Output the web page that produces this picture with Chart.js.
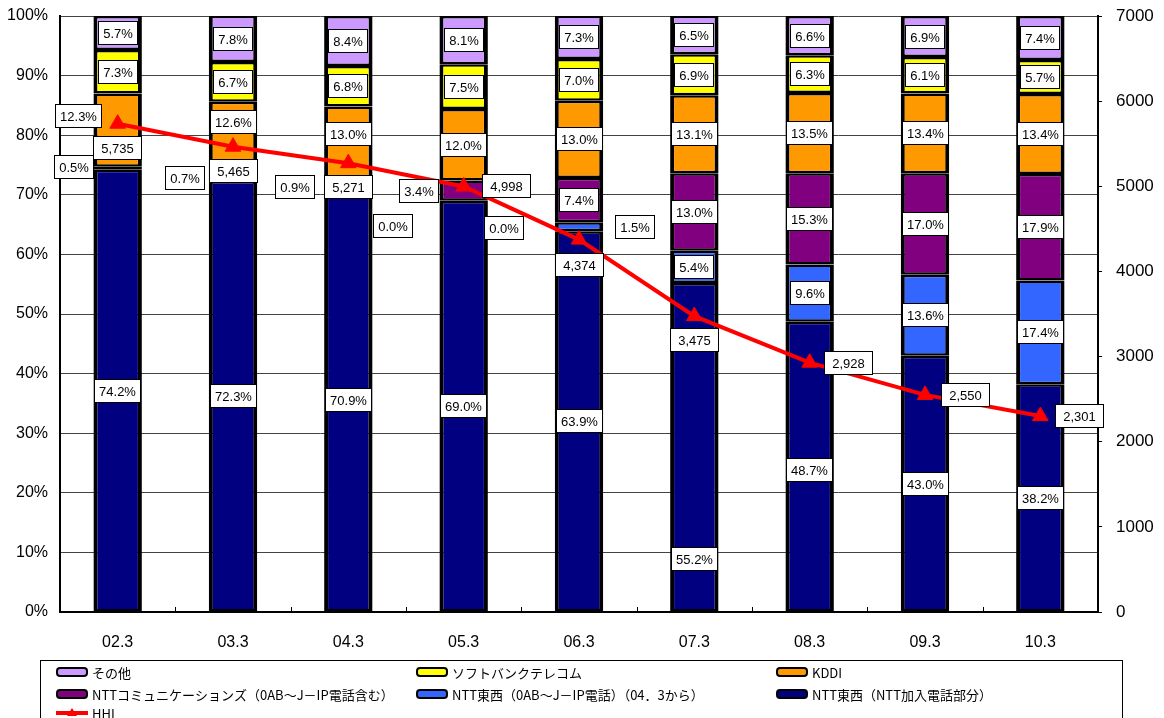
<!DOCTYPE html>
<html lang="ja">
<head>
<meta charset="utf-8">
<title>固定電話市場シェアとHHIの推移</title>
<script src="https://cdn.jsdelivr.net/npm/chart.js@4.4.1/dist/chart.umd.min.js"></script>
<style>
  html, body { margin: 0; padding: 0; background: #fff; }
  canvas { display: block; }
</style>
</head>
<body>
<canvas id="chart" width="1164" height="718"></canvas>
<script>
// ---- data (share in %, HHI index) ----
const categories = ['02.3', '03.3', '04.3', '05.3', '06.3', '07.3', '08.3', '09.3', '10.3'];
const nttLocal   = [74.2, 72.3, 70.9, 69.0, 63.9, 55.2, 48.7, 43.0, 38.2];
const nttIp      = [null, null, 0.0, 0.0, 1.5, 5.4, 9.6, 13.6, 17.4];
const nttCom     = [0.5, 0.7, 0.9, 3.4, 7.4, 13.0, 15.3, 17.0, 17.9];
const kddi       = [12.3, 12.6, 13.0, 12.0, 13.0, 13.1, 13.5, 13.4, 13.4];
const softbank   = [7.3, 6.7, 6.8, 7.5, 7.0, 6.9, 6.3, 6.1, 5.7];
const others     = [5.7, 7.8, 8.4, 8.1, 7.3, 6.5, 6.6, 6.9, 7.4];
const hhi        = [5735, 5465, 5271, 4998, 4374, 3475, 2928, 2550, 2301];

const shareTicks = [0, 10, 20, 30, 40, 50, 60, 70, 80, 90, 100];
const hhiTicks   = [0, 1000, 2000, 3000, 4000, 5000, 6000, 7000];

const seriesNames = {
  nttLocal: 'NTT東西（NTT加入電話部分）',
  nttIp:    'NTT東西（0AB～J－IP電話）（04．3から）',
  nttCom:   'NTTコミュニケーションズ（0AB～J－IP電話含む）',
  kddi:     'KDDI',
  softbank: 'ソフトバンクテレコム',
  others:   'その他',
  hhi:      'HHI'
};

// ---- styling / label placement ----
const colors = {
  nttLocal: '#000080', nttIp: '#3366FF', nttCom: '#800080',
  kddi: '#FF9900', softbank: '#FFFF00', others: '#CC99FF', hhi: '#FF0000'
};

// pixel nudges for value labels that would otherwise collide: {index: [dx, dy]}
const labelNudges = {
  nttLocal: { 5: [0, 112], 6: [0, 3] },
  nttIp:    { 2: [45, 37], 3: [40, 27], 4: [56, 0] },
  nttCom:   { 0: [-44, -1], 1: [-48, -1], 2: [-53, 0], 3: [-45, 0] },
  kddi:     { 0: [-39, -14], 1: [0, -17], 2: [0, -11] },
  softbank: {},
  others:   {},
  hhi:      { 0: [0, 24], 1: [0, 24], 2: [0, 24], 3: [43, 0], 4: [0, 25], 5: [0, 24], 6: [39, 0], 7: [40, 0], 8: [39, 0] }
};

const barKeys = ['nttLocal', 'nttIp', 'nttCom', 'kddi', 'softbank', 'others'];
const barValues = { nttLocal, nttIp, nttCom, kddi, softbank, others };

const barDatasets = barKeys.map(key => ({
  type: 'bar',
  key,
  label: seriesNames[key],
  data: barValues[key],
  backgroundColor: colors[key],
  borderColor: '#000000',
  borderWidth: { left: 4, right: 4, top: 2.5, bottom: 2.5 },
  borderSkipped: false,
  barPercentage: 0.42,
  categoryPercentage: 1.0,
  yAxisID: 'y',
  order: 1,
  nudge: labelNudges[key]
}));

const hhiDataset = {
  type: 'line',
  key: 'hhi',
  label: seriesNames.hhi,
  data: hhi,
  borderColor: colors.hhi,
  backgroundColor: colors.hhi,
  borderWidth: 4,
  pointStyle: 'triangle',
  pointRadius: 9,
  pointBorderWidth: 1,
  pointBackgroundColor: colors.hhi,
  pointBorderColor: colors.hhi,
  tension: 0,
  yAxisID: 'y1',
  order: 0,
  nudge: labelNudges.hhi
};

const labelFont = '13px "Liberation Sans", Arial, sans-serif';

// boxed value labels on every segment and on the HHI points
const valueLabels = {
  id: 'valueLabels',
  afterDatasetsDraw(chart) {
    const ctx = chart.ctx;
    ctx.save();
    ctx.font = labelFont;
    ctx.textAlign = 'center';
    ctx.textBaseline = 'middle';
    chart.data.datasets.forEach((ds, di) => {
      const meta = chart.getDatasetMeta(di);
      meta.data.forEach((el, i) => {
        const v = ds.data[i];
        if (v === null || v === undefined) return;
        let x, y;
        if (ds.type === 'line') { x = el.x; y = el.y; }
        else { const c = el.getCenterPoint(); x = c.x; y = c.y; }
        const n = (ds.nudge && ds.nudge[i]) || [0, 0];
        x += n[0]; y += n[1];
        const isLine = ds.type === 'line';
        const text = isLine ? v.toLocaleString('en-US') : v.toFixed(1) + '%';
        const pad = isLine ? 8 : 5;
        const w = Math.round(ctx.measureText(text).width + pad * 2);
        const h = 24;
        const bx = Math.round(x - w / 2), by = Math.round(y - h / 2);
        ctx.fillStyle = '#ffffff';
        ctx.fillRect(bx, by, w, h);
        ctx.strokeStyle = '#000000';
        ctx.lineWidth = 1;
        ctx.strokeRect(bx + 0.5, by + 0.5, w - 1, h - 1);
        ctx.fillStyle = '#000000';
        ctx.fillText(text, bx + w / 2, by + h / 2 + 1);
      });
    });
    ctx.restore();
  }
};

// small upward marks between categories on the x axis
const categoryMarks = {
  id: 'categoryMarks',
  afterDraw(chart) {
    const ctx = chart.ctx;
    const xs = chart.scales.x;
    const bottom = chart.chartArea.bottom;
    ctx.save();
    ctx.strokeStyle = '#000000';
    ctx.lineWidth = 1;
    for (let i = 0; i < categories.length - 1; i++) {
      const px = Math.round(xs.getPixelForValue(i + 0.5)) + 0.5;
      ctx.beginPath();
      ctx.moveTo(px, bottom - 5);
      ctx.lineTo(px, bottom);
      ctx.stroke();
    }
    ctx.restore();
  }
};

// three-column legend in a framed box under the plot
const boxLegend = {
  id: 'boxLegend',
  afterDraw(chart) {
    const ctx = chart.ctx;
    const byKey = {};
    chart.data.datasets.forEach(ds => { byKey[ds.key] = ds; });
    const order = ['others', 'softbank', 'kddi', 'nttCom', 'nttIp', 'nttLocal', 'hhi'];
    const colX = [56, 416, 776];
    const rowY = [672, 694, 713];
    ctx.save();
    ctx.strokeStyle = '#000000';
    ctx.lineWidth = 1;
    ctx.strokeRect(40.5, 660.5, 1082, 80);
    ctx.font = '13px "Noto Sans CJK JP", sans-serif';
    ctx.textBaseline = 'middle';
    ctx.textAlign = 'left';
    order.forEach((key, k) => {
      const ds = byKey[key];
      const x = colX[k % 3];
      const y = rowY[Math.floor(k / 3)];
      if (ds.type === 'line') {
        ctx.strokeStyle = ds.borderColor;
        ctx.lineWidth = 4;
        ctx.beginPath();
        ctx.moveTo(x, y);
        ctx.lineTo(x + 32, y);
        ctx.stroke();
        ctx.fillStyle = ds.borderColor;
        ctx.beginPath();
        ctx.moveTo(x + 16, y - 5);
        ctx.lineTo(x + 21, y + 3);
        ctx.lineTo(x + 11, y + 3);
        ctx.closePath();
        ctx.fill();
      } else {
        ctx.fillStyle = ds.backgroundColor;
        ctx.strokeStyle = '#000000';
        ctx.lineWidth = 2;
        ctx.beginPath();
        ctx.roundRect(x + 1, y - 4, 30, 8, 3);
        ctx.fill();
        ctx.stroke();
      }
      ctx.fillStyle = '#000000';
      ctx.fillText(ds.label, x + 36, y + 1);
    });
    ctx.restore();
  }
};

Chart.defaults.font.family = '"Liberation Sans", Arial, sans-serif';
Chart.defaults.color = '#000000';

// fixed axis footprints; tick-label overflow must not push the plot area down
function fixVertical(width) {
  return s => { s.width = width; s.paddingTop = 0; s.paddingBottom = 0; };
}

new Chart(document.getElementById('chart'), {
  data: {
    labels: categories,
    datasets: [...barDatasets, hhiDataset]
  },
  options: {
    responsive: false,
    animation: false,
    events: [],
    layout: { autoPadding: false, padding: { top: 16, left: 0, right: 0, bottom: 0 } },
    plugins: {
      legend: { display: false },
      tooltip: { enabled: false }
    },
    scales: {
      x: {
        stacked: true,
        offset: true,
        grid: { display: true, drawOnChartArea: false, drawTicks: false },
        border: { display: true, color: '#000000', width: 2 },
        ticks: { padding: 21, font: { size: 16 }, color: '#000000' },
        afterFit(s) { s.height = 106; s.paddingLeft = 0; s.paddingRight = 0; }
      },
      y: {
        stacked: true,
        position: 'left',
        min: 0,
        max: 100,
        afterBuildTicks(s) { s.ticks = shareTicks.map(v => ({ value: v })); },
        grid: { color: '#444444', lineWidth: 1, drawTicks: false },
        border: { display: true, color: '#000000', width: 2 },
        ticks: { padding: 12, font: { size: 16 }, color: '#000000', callback: v => v + '%' },
        afterFit: fixVertical(60)
      },
      y1: {
        position: 'right',
        min: 0,
        max: 7000,
        afterBuildTicks(s) { s.ticks = hhiTicks.map(v => ({ value: v })); },
        grid: { drawOnChartArea: false, drawTicks: true, tickLength: 4, color: '#000000' },
        border: { display: true, color: '#000000', width: 2 },
        ticks: { padding: 14, font: { size: 17 }, color: '#000000', callback: v => String(v) },
        afterFit: fixVertical(66)
      }
    }
  },
  plugins: [valueLabels, categoryMarks, boxLegend]
});
</script>
</body>
</html>
